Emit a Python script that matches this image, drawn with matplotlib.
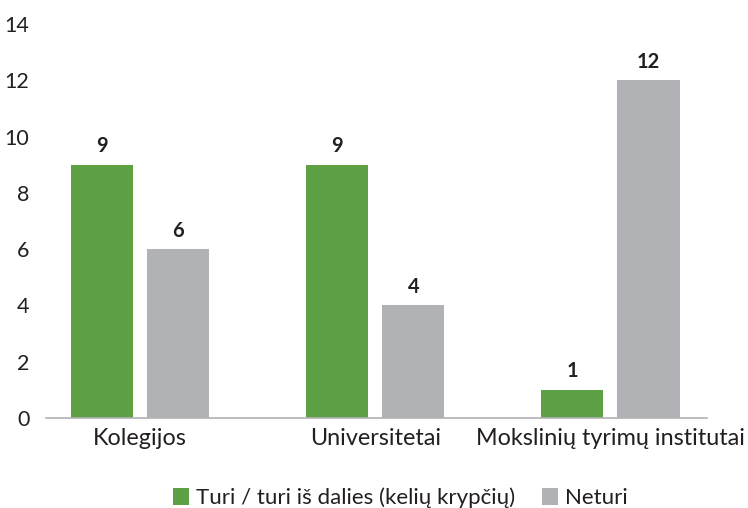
import numpy as np
import matplotlib.pyplot as plt

plt.rcParams['font.family'] = ['Lato', 'DejaVu Sans']

categories = ['Kolegijos', 'Universitetai', 'Mokslinių tyrimų institutai']
turi = [9, 9, 1]
neturi = [6, 4, 12]
series_names = ['Turi / turi iš dalies (kelių krypčių)', 'Neturi']
yticks = [0, 2, 4, 6, 8, 10, 12, 14]

green = '#5ea144'
grey = '#b1b2b5'

fig = plt.figure(figsize=(7.48, 5.08), dpi=100)
ax = fig.add_axes([0.0615, 0.177, 0.8835, 0.776])

x = np.arange(len(categories))
w = 0.264
off = 0.162
b1 = ax.bar(x - off, turi, w, color=green, label=series_names[0])
b2 = ax.bar(x + off, neturi, w, color=grey, label=series_names[1])

for bars, vals in [(b1, turi), (b2, neturi)]:
    for r, v in zip(bars, vals):
        ax.text(r.get_x() + r.get_width() / 2, v + 0.3, str(v), ha='center', va='bottom',
                fontsize=14.5, fontweight='bold', color='#231f20')

ax.set_xlim(-0.4, 2.41)
ax.set_ylim(0, 14)
ax.set_yticks(yticks)
ax.set_xticks(x)
ax.set_xticklabels(categories, fontsize=16.8)
ax.tick_params(axis='both', length=0, labelcolor='#231f20')
ax.tick_params(axis='y', pad=12, labelsize=15.5)
ax.tick_params(axis='x', pad=7)
for s in ['top', 'right', 'left']:
    ax.spines[s].set_visible(False)
ax.spines['bottom'].set_color('#b1b2b5')
ax.spines['bottom'].set_linewidth(1.2)

fig.legend(handles=[b1, b2], loc='lower center', bbox_to_anchor=(0.535, -0.04), ncol=2,
           frameon=False, fontsize=16, handlelength=0.75, handleheight=0.75,
           handletextpad=0.3, columnspacing=1.2, labelcolor='#231f20')

fig.savefig('out.png', dpi=100)
